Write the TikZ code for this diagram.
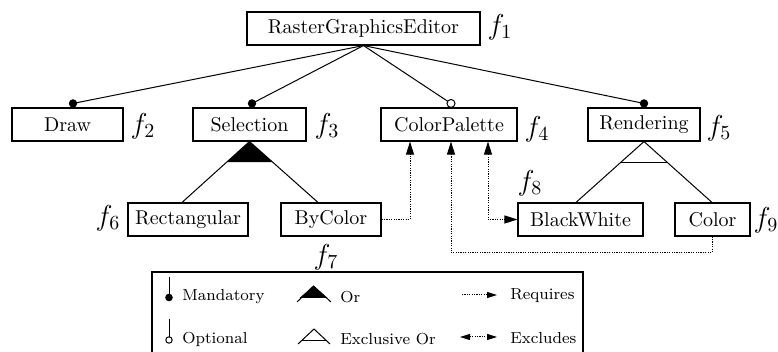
\documentclass[tikz,border=0pt]{standalone}
\usetikzlibrary{arrows.meta,calc}
\begin{document}
\begin{tikzpicture}[x=0.5pt,y=-0.5pt,
  feat/.style={draw, line width=0.55pt, minimum height=16.5pt, inner sep=0pt, font=\normalsize},
  flab/.style={font=\Large, inner sep=0pt},
  edge/.style={line width=0.5pt},
  dep/.style={line width=0.5pt, dash pattern=on 0.6pt off 0.6pt},
  tip/.style={-{Triangle[length=6.5pt,width=4pt]}},
  tips/.style={{Triangle[length=6.5pt,width=4pt]}-{Triangle[length=6.5pt,width=4pt]}},
  ltip/.style={-{Triangle[length=5pt,width=3pt]}},
  ltips/.style={{Triangle[length=5pt,width=3pt]}-{Triangle[length=5pt,width=3pt]}},
  leg/.style={font=\footnotesize, anchor=west, inner sep=0pt}]
\useasboundingbox (0,0) rectangle (778,352);

% features
\node[feat, minimum width=116.5pt] (root) at (363.5,28.5) {RasterGraphicsEditor};
\node[feat, minimum width=55.5pt] (draw) at (67.5,124.5) {Draw};
\node[feat, minimum width=56.5pt] (sel) at (249.5,124.5) {Selection};
\node[feat, minimum width=68pt] (cp) at (449,124.5) {ColorPalette};
\node[feat, minimum width=56pt] (rend) at (644,124.5) {Rendering};
\node[feat, minimum width=60pt] (rect) at (188,219.5) {Rectangular};
\node[feat, minimum width=50pt] (byc) at (331,219.5) {ByColor};
\node[feat, minimum width=62.5pt] (bw) at (580.5,219.5) {BlackWhite};
\node[feat, minimum width=37.5pt] (col) at (712.5,219.5) {Color};

% feature indices
\node[flab] (l1) at (500,27) {$f_1$};
\node[flab] (l2) at (143,126) {$f_2$};
\node[flab] (l3) at (327,126) {$f_3$};
\node[flab] (l4) at (537,129) {$f_4$};
\node[flab] (l5) at (719,128) {$f_5$};
\node[flab] (l6) at (108,218) {$f_6$};
\node[flab] (l7) at (326,257) {$f_7$};
\node[flab] (l8) at (530,183) {$f_8$};
\node[flab] (l9) at (766,220) {$f_9$};

% mandatory / optional children of the root
\coordinate (mDraw) at ($(draw.north)+(5.5,-4)$);
\coordinate (mSel) at ($(sel.north)+(2.5,-4)$);
\coordinate (oCp) at ($(cp.north)+(2,-4)$);
\coordinate (mRend) at ($(rend.north)+(0,-4)$);
\draw[edge] (root.south) -- (mDraw);
\draw[edge] (root.south) -- (mSel);
\draw[edge] (root.south) -- (oCp);
\draw[edge] (root.south) -- (mRend);
\fill (mDraw) circle[radius=2.1pt];
\fill (mSel) circle[radius=2.1pt];
\fill (mRend) circle[radius=2.1pt];
\draw[edge, fill=white] (oCp) circle[radius=2pt];

% or-group under Selection
\coordinate (sRect) at ($(rect.north)+(-6,0)$);
\coordinate (sByc) at ($(byc.north)+(-13,0)$);
\fill (sel.south) -- ($(sel.south)!0.339!(sRect)$) -- ($(sel.south)!0.339!(sByc)$) -- cycle;
\draw[edge] (sRect) -- (sel.south) -- (sByc);

% xor-group under Rendering
\coordinate (sBw) at ($(bw.north)+(-4.5,0)$);
\coordinate (sCol) at ($(col.north)+(-0.5,0)$);
\draw[edge] (sBw) -- (rend.south) -- (sCol);
\draw[edge] ($(rend.south)!0.339!(sBw)$) -- ($(rend.south)!0.339!(sCol)$);

% cross-tree constraints
\draw[dep, tip] (byc.east) -| ($(cp.south)+(-39,0)$);
\draw[dep, tips] ($(cp.south)+(39,0)$) |- (bw.west);
\coordinate (cc) at ($(col.south)+(-0.5,16)$);
\draw[dep, tip] ($(col.south)+(-0.5,0)$) -- (cc) -| ($(cp.south)+(2,0)$);

% legend
\draw[line width=0.55pt] (152,272) rectangle (583,390);
\draw[edge] (169,277) -- (169,297);
\fill (169,297.5) circle[radius=1.9pt];
\node[leg] (tMand) at (182,297) {Mandatory};
\draw[edge] (169,319) -- (169,338);
\draw[edge, fill=white] (169,340) circle[radius=1.6pt];
\node[leg] (tOpt) at (182,339) {Optional};
\fill (313.5,286) -- (299.5,298) -- (327.5,298) -- cycle;
\draw[edge] (297,302) -- (313.5,286) -- (331,302);
\node[leg] (tOr) at (340,297) {Or};
\draw[edge] (298,344) -- (314,329) -- (330,344);
\draw[edge] (301.5,341) -- (326.5,341);
\node[leg] (tXor) at (340,339) {Exclusive Or};
\draw[dep, ltip] (462,295) -- (497,295);
\node[leg] (tReq) at (510,296) {Requires};
\draw[dep, ltips] (460,337) -- (497,337);
\node[leg] (tExc) at (510,338) {Excludes};
\end{tikzpicture}
\end{document}
